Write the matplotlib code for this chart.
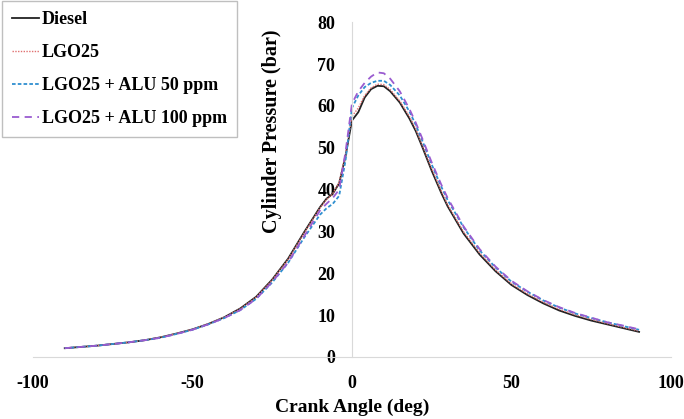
import matplotlib
matplotlib.use("Agg")
import matplotlib.pyplot as plt

plt.rcParams['font.family'] = ['Liberation Serif', 'DejaVu Serif']
plt.rcParams['font.weight'] = 'bold'
plt.rcParams['axes.unicode_minus'] = False

# crank angle (deg)
angle = [-90, -85, -80, -75, -70, -65, -60, -55, -50, -45, -40, -35, -30, -25, -20, -15, -10,
         -8, -6, -4, -2, 0, 2, 4, 6, 8, 10, 12, 15, 18, 20, 22, 25, 28, 30, 35, 40,
         45, 50, 55, 60, 65, 70, 75, 80, 85, 90]

# cylinder pressure (bar)
diesel = [2.1, 2.4, 2.7, 3.1, 3.5, 4.0, 4.7, 5.6, 6.6, 7.9, 9.5, 11.6, 14.4, 18.5, 23.5, 29.8, 35.8,
          37.8, 39.0, 41.5, 48.0, 56.5, 58.5, 62.0, 64.0, 64.8, 64.7, 63.5, 60.8, 57.0, 54.0, 50.3, 44.5, 39.2, 36.0, 29.5, 24.5,
          20.5, 17.2, 14.8, 12.8, 11.1, 9.8, 8.7, 7.8, 6.9, 6.0]
lgo25 = [2.1, 2.4, 2.7, 3.1, 3.5, 4.0, 4.7, 5.6, 6.6, 7.9, 9.5, 11.5, 14.3, 18.4, 23.3, 29.6, 35.6,
         37.6, 39.0, 41.8, 48.5, 57.5, 59.5, 62.5, 64.3, 65.2, 65.1, 63.9, 61.2, 57.5, 54.5, 50.8, 45.0, 39.7, 36.4, 29.9, 24.9,
         20.8, 17.5, 15.1, 13.1, 11.4, 10.1, 9.0, 8.0, 7.1, 6.2]
alu50 = [2.1, 2.4, 2.7, 3.1, 3.5, 4.0, 4.6, 5.5, 6.5, 7.8, 9.3, 11.2, 13.9, 17.8, 22.5, 28.5, 34.0,
         35.5, 36.6, 38.5, 47.0, 59.5, 62.5, 64.5, 65.5, 66.0, 66.0, 65.0, 62.5, 58.7, 55.5, 51.8, 46.0, 40.7, 37.5, 31.0, 25.5,
         21.4, 18.0, 15.6, 13.5, 11.8, 10.4, 9.3, 8.3, 7.4, 6.5]
alu100 = [2.1, 2.4, 2.7, 3.1, 3.5, 4.0, 4.6, 5.5, 6.5, 7.8, 9.3, 11.2, 13.9, 17.9, 22.6, 28.8, 35.0,
          36.6, 38.0, 40.0, 49.0, 60.5, 63.5, 65.5, 67.0, 68.0, 67.8, 66.5, 63.5, 59.3, 56.0, 52.3, 46.5, 41.2, 38.0, 31.2, 25.8,
          21.6, 18.2, 15.7, 13.6, 11.9, 10.5, 9.4, 8.3, 7.5, 6.6]

fig = plt.figure(figsize=(6.84, 4.19), dpi=100)
ax = fig.add_axes([0.048, 0.148, 0.933, 0.799])

ax.plot(angle, diesel, color='#222222', lw=1.3, label='Diesel')
ax.plot(angle, lgo25, color='#e07070', lw=1.0, ls=(0, (1, 1)), label='LGO25')
ax.plot(angle, alu50, color='#2f8fd0', lw=1.3, ls=(0, (2, 1.2)), label='LGO25 + ALU 50 ppm')
ax.plot(angle, alu100, color='#9a5cd0', lw=1.3, ls=(0, (4, 3)), label='LGO25 + ALU 100 ppm')

ax.set_xlim(-100, 100)
ax.set_ylim(0, 80)
ax.set_xticks([-100, -50, 0, 50, 100])
ax.set_yticks(range(0, 81, 10))

for s in ['top', 'right']:
    ax.spines[s].set_visible(False)
ax.spines['left'].set_position(('data', 0))
ax.spines['left'].set_color('#d9d9d9')
ax.spines['bottom'].set_color('#d9d9d9')
ax.tick_params(axis='both', length=0, labelsize=13)
ax.tick_params(axis='x', pad=13)
ax.tick_params(axis='y', pad=12)

ax.set_xlabel('Crank Angle (deg)', fontsize=14, fontweight='bold', labelpad=5)
ax.set_ylabel('Cylinder Pressure (bar)', fontsize=14.5, fontweight='bold')
ax.yaxis.set_label_coords(0.39, 0.675)

leg = fig.legend(loc='upper left', bbox_to_anchor=(0.003, 0.997), fontsize=13,
                 frameon=True, fancybox=False, framealpha=1, edgecolor='#bfbfbf',
                 handlelength=1.5, handletextpad=0.15, labelspacing=0.88,
                 borderpad=0.55, borderaxespad=0)
leg.get_frame().set_linewidth(1.0)

fig.savefig('out.png', dpi=100)
